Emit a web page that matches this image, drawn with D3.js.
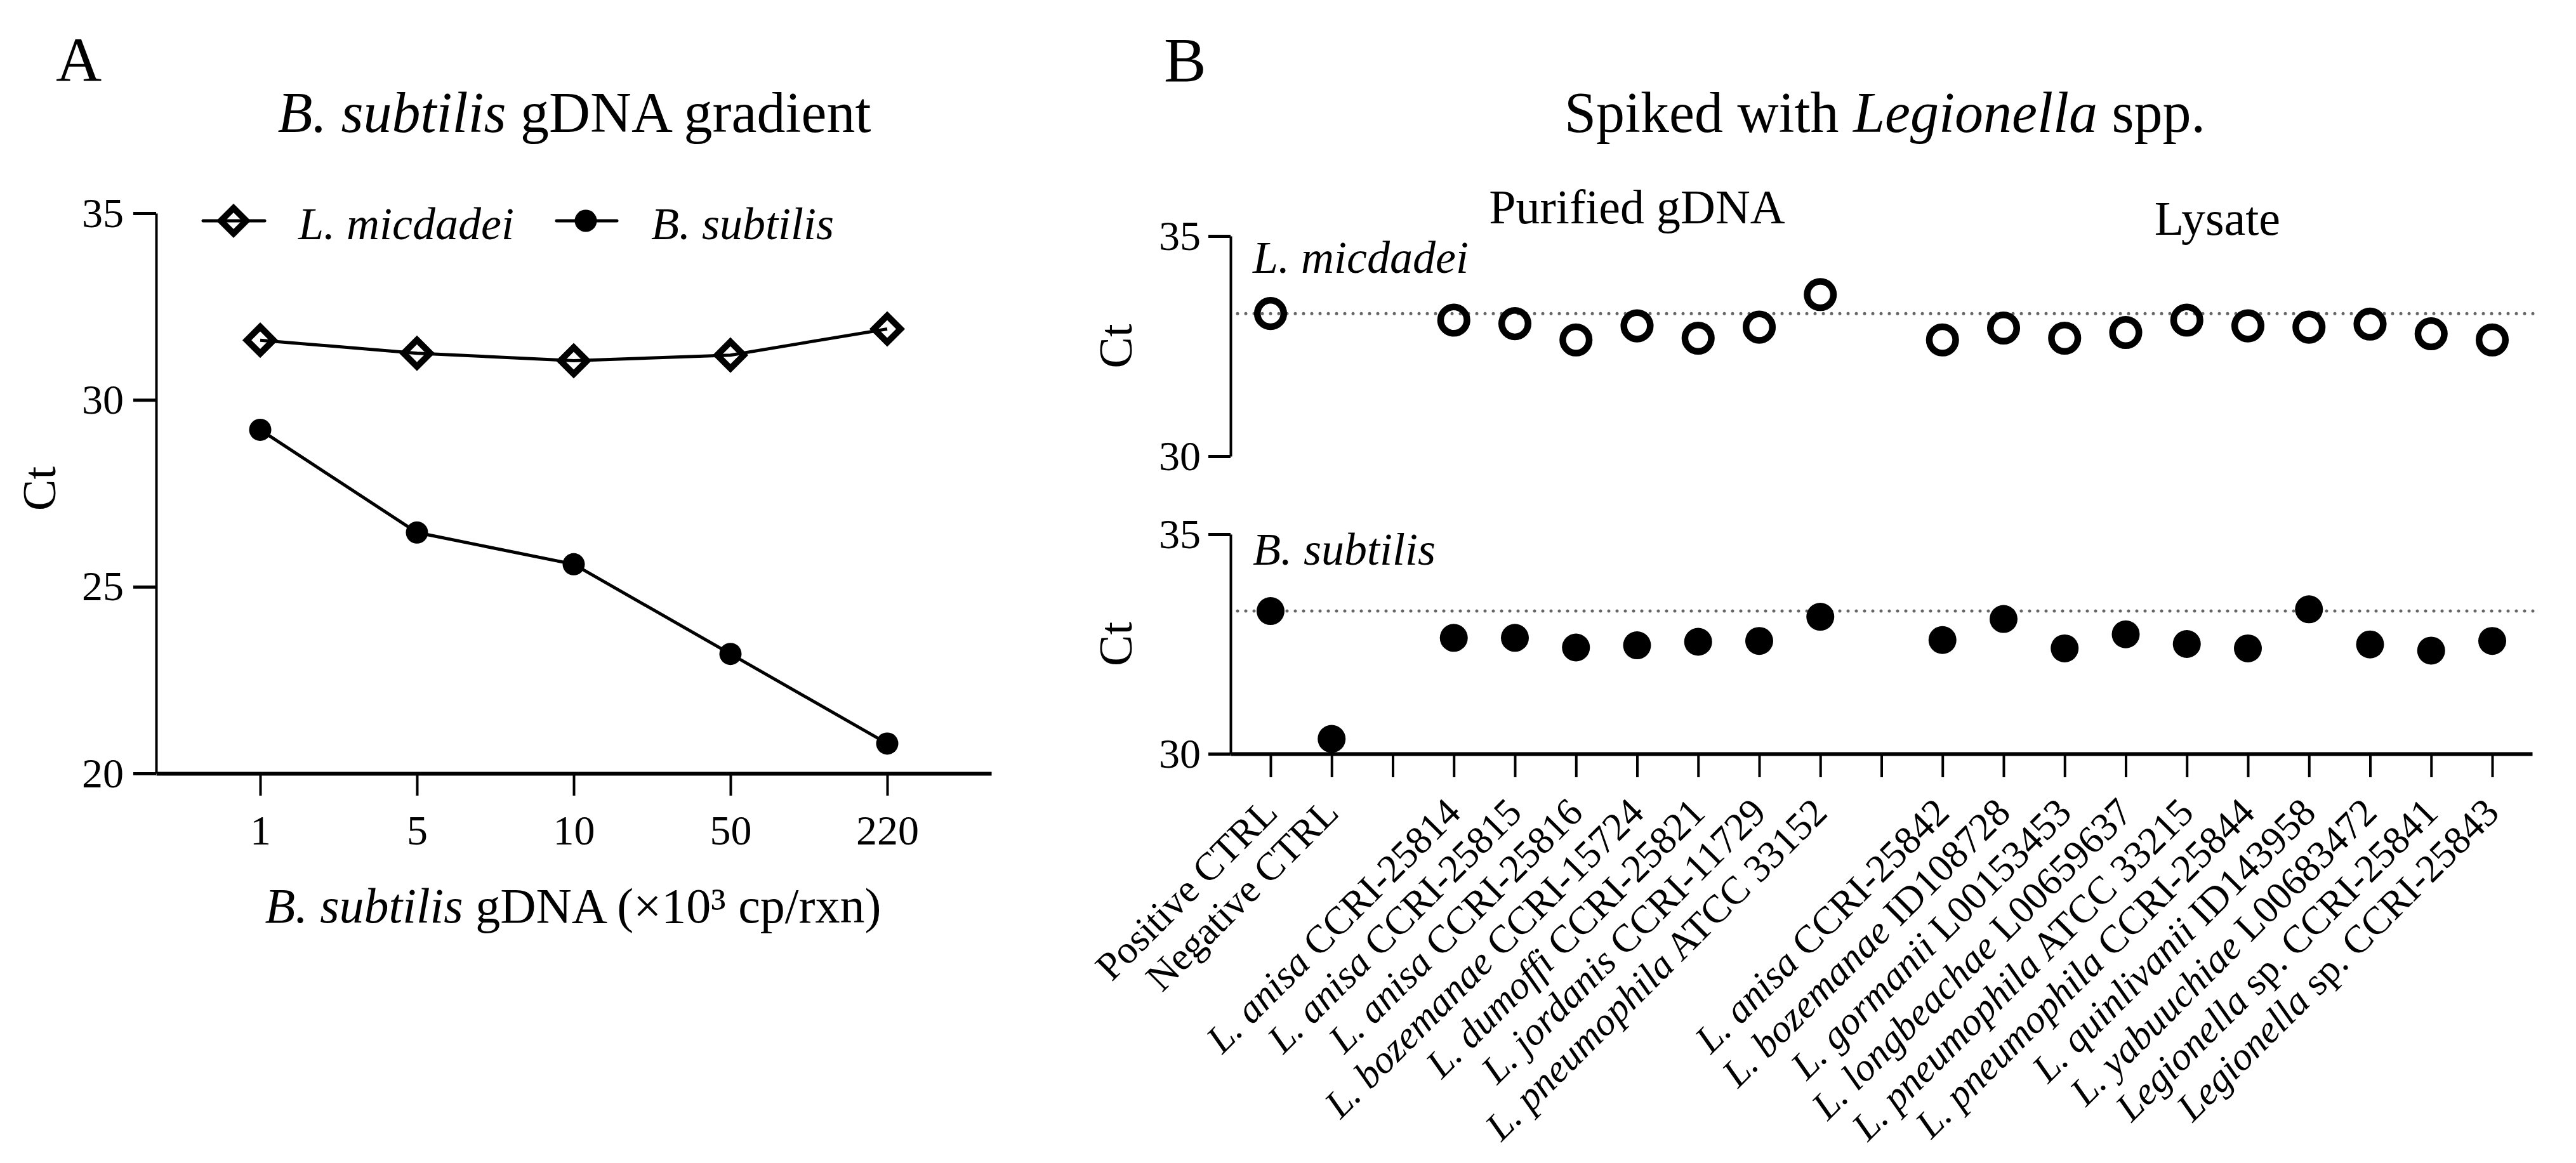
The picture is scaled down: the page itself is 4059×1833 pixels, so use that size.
<!DOCTYPE html>
<html>
<head>
<meta charset="utf-8">
<script src="https://cdn.jsdelivr.net/npm/d3@7"></script>
<style>
  body { margin: 0; background: #fff; }
  text { font-family: "Liberation Serif", "Times New Roman", serif; fill: #000; white-space: pre; }
</style>
</head>
<body>
<div id="chart"></div>
<script>
// Panel A: B. subtilis gDNA gradient
const doses = ["1", "5", "10", "50", "220"];
const micdadeiA = [31.6, 31.25, 31.05, 31.2, 31.9];
const subtilisA = [29.2, 26.45, 25.6, 23.2, 20.8];
const ticksA = [20, 25, 30, 35];

// Panel B: spiked with Legionella spp. ([italic part, roman part])
const strains = [
  ["", "Positive CTRL"],
  ["", "Negative CTRL"],
  ["", ""],
  ["L. anisa", " CCRI-25814"],
  ["L. anisa", " CCRI-25815"],
  ["L. anisa", " CCRI-25816"],
  ["L. bozemanae", " CCRI-15724"],
  ["L. dumoffi", " CCRI-25821"],
  ["L. jordanis", " CCRI-11729"],
  ["L. pneumophila", " ATCC 33152"],
  ["", ""],
  ["L. anisa", " CCRI-25842"],
  ["L. bozemanae", " ID108728"],
  ["L. gormanii", " L00153453"],
  ["L. longbeachae", " L00659637"],
  ["L. pneumophila", " ATCC 33215"],
  ["L. pneumophila", " CCRI-25844"],
  ["L. quinlivanii", " ID143958"],
  ["L. yabuuchiae", " L00683472"],
  ["Legionella", " sp. CCRI-25841"],
  ["Legionella", " sp. CCRI-25843"]
];
const micdadeiB = [33.24, null, null, 33.09, 33.01, 32.64, 32.96, 32.68, 32.93, 33.67, null,
                   32.64, 32.91, 32.68, 32.81, 33.09, 32.96, 32.93, 33.0, 32.78, 32.64];
const subtilisB = [33.25, 30.34, null, 32.64, 32.64, 32.42, 32.47, 32.55, 32.57, 33.12, null,
                   32.59, 33.07, 32.40, 32.72, 32.50, 32.40, 33.29, 32.49, 32.35, 32.57];
const refB = [33.24, 33.25];
const ticksB = [30, 35];
const groups = [["Purified gDNA", 3, 9], ["Lysate", 11, 20]];

const W = 4059, H = 1833;
const svg = d3.select("#chart").append("svg").attr("width", W).attr("height", H);
svg.append("rect").attr("width", W).attr("height", H).attr("fill", "#fff");

function styleAxis(g, domainW, tickW, fs) {
  g.select(".domain").attr("stroke", "#000").attr("stroke-width", domainW);
  g.selectAll(".tick line").attr("stroke", "#000").attr("stroke-width", tickW);
  g.selectAll(".tick text").attr("font-size", fs).attr("font-family", "Liberation Serif");
}

function richText(sel, parts) {
  parts.forEach(p => {
    if (!p[1]) return;
    sel.append("tspan").attr("font-style", p[0] ? "italic" : "normal").text(p[1]);
  });
}

const diamond = r => `M0,${-r}L${r},0L0,${r}L${-r},0Z`;

// ---------- Panel A ----------
const xA = d3.scalePoint().domain(doses).range([246, 1562]).padding(0.664);
const yA = d3.scaleLinear().domain([20, 35]).range([1219, 336]);

svg.append("text").attr("x", 88).attr("y", 128).attr("font-size", 100).text("A");
richText(svg.append("text").attr("x", 905).attr("y", 208).attr("font-size", 90).attr("text-anchor", "middle"),
  [[1, "B. subtilis"], [0, " gDNA gradient"]]);

const gyA = svg.append("g").attr("transform", "translate(246,0)")
  .call(d3.axisLeft(yA).tickValues(ticksA).tickFormat(d3.format("d")).tickSize(36).tickSizeOuter(0).tickPadding(15));
styleAxis(gyA, 4, 5, 66);

const gxA = svg.append("g").attr("transform", "translate(0,1219)")
  .call(d3.axisBottom(xA).tickSize(35).tickSizeOuter(0).tickPadding(30));
styleAxis(gxA, 6, 4, 66);

svg.append("text").attr("transform", "translate(87,770) rotate(-90)")
  .attr("text-anchor", "middle").attr("font-size", 74).text("Ct");
richText(svg.append("text").attr("x", 903).attr("y", 1454).attr("font-size", 78).attr("text-anchor", "middle"),
  [[1, "B. subtilis"], [0, " gDNA (×10³ cp/rxn)"]]);

const lineA = d3.line().x((d, i) => xA(doses[i])).y(d => yA(d));
svg.append("path").attr("d", lineA(micdadeiA)).attr("fill", "none").attr("stroke", "#000").attr("stroke-width", 5);
svg.append("path").attr("d", lineA(subtilisA)).attr("fill", "none").attr("stroke", "#000").attr("stroke-width", 5);

svg.selectAll(".dmA").data(micdadeiA).enter().append("path")
  .attr("transform", (d, i) => `translate(${xA(doses[i])},${yA(d)})`)
  .attr("d", diamond(21)).attr("fill", "none").attr("stroke", "#000").attr("stroke-width", 10);
svg.selectAll(".ciA").data(subtilisA).enter().append("circle")
  .attr("cx", (d, i) => xA(doses[i])).attr("cy", d => yA(d)).attr("r", 17.5).attr("fill", "#000");

// legend
const lg = svg.append("g");
lg.append("line").attr("x1", 320).attr("x2", 417).attr("y1", 348).attr("y2", 348)
  .attr("stroke", "#000").attr("stroke-width", 5).attr("stroke-linecap", "round");
lg.append("path").attr("transform", "translate(368,348)").attr("d", diamond(20))
  .attr("fill", "none").attr("stroke", "#000").attr("stroke-width", 10);
lg.append("text").attr("x", 470).attr("y", 377).attr("font-size", 72).attr("font-style", "italic").text("L. micdadei");
lg.append("line").attr("x1", 877).attr("x2", 972).attr("y1", 348).attr("y2", 348)
  .attr("stroke", "#000").attr("stroke-width", 5).attr("stroke-linecap", "round");
lg.append("circle").attr("cx", 923).attr("cy", 348).attr("r", 17.5).attr("fill", "#000");
lg.append("text").attr("x", 1026).attr("y", 377).attr("font-size", 72).attr("font-style", "italic").text("B. subtilis");

// ---------- Panel B ----------
const idx = strains.map((d, i) => i);
const xB = d3.scalePoint().domain(idx).range([1939, 3990]).padding(0.6545);
const yUp = d3.scaleLinear().domain([30, 35]).range([719, 372]);
const yLo = d3.scaleLinear().domain([30, 35]).range([1188, 842]);

svg.append("text").attr("x", 1834).attr("y", 128).attr("font-size", 100).text("B");
richText(svg.append("text").attr("x", 2970).attr("y", 208).attr("font-size", 90).attr("text-anchor", "middle"),
  [[0, "Spiked with "], [1, "Legionella"], [0, " spp."]]);

groups.forEach((g, k) => {
  svg.append("text").attr("x", (xB(g[1]) + xB(g[2])) / 2).attr("y", k === 0 ? 352 : 370)
    .attr("font-size", 76).attr("text-anchor", "middle").text(g[0]);
});

[[yUp, micdadeiB, refB[0], "L. micdadei", 430], [yLo, subtilisB, refB[1], "B. subtilis", 890]].forEach((p, k) => {
  const y = p[0];
  const gy = svg.append("g").attr("transform", "translate(1939,0)")
    .call(d3.axisLeft(y).tickValues(ticksB).tickFormat(d3.format("d")).tickSize(35).tickSizeOuter(0).tickPadding(12));
  styleAxis(gy, 4, 5, 66);

  svg.append("text").attr("transform", `translate(1783,${(y(30) + y(35)) / 2}) rotate(-90)`)
    .attr("text-anchor", "middle").attr("font-size", 74).text("Ct");
  svg.append("text").attr("x", 1974).attr("y", p[4]).attr("font-size", 72).attr("font-style", "italic").text(p[3]);

  svg.append("line").attr("x1", 1950).attr("x2", 3999).attr("y1", y(p[2])).attr("y2", y(p[2]))
    .attr("stroke", "#666").attr("stroke-width", 5).attr("stroke-dasharray", "0 13").attr("stroke-linecap", "round");

  const pts = p[1].map((v, i) => ({ i, v })).filter(d => d.v !== null);
  const c = svg.selectAll(null).data(pts).enter().append("circle")
    .attr("cx", d => xB(d.i)).attr("cy", d => y(d.v));
  if (k === 0) c.attr("r", 20.8).attr("fill", "none").attr("stroke", "#000").attr("stroke-width", 10.5);
  else c.attr("r", 22).attr("fill", "#000");
});

const gxB = svg.append("g").attr("transform", "translate(0,1188)")
  .call(d3.axisBottom(xB).tickSize(37).tickSizeOuter(0).tickFormat(""));
styleAxis(gxB, 6, 4, 66);

strains.forEach((s, i) => {
  if (!s[0] && !s[1]) return;
  const t = svg.append("text").attr("transform", `translate(${xB(i) + 14},1284) rotate(-45)`)
    .attr("text-anchor", "end").attr("font-size", 62);
  richText(t, [[1, s[0]], [0, s[1]]]);
});
</script>
</body>
</html>
